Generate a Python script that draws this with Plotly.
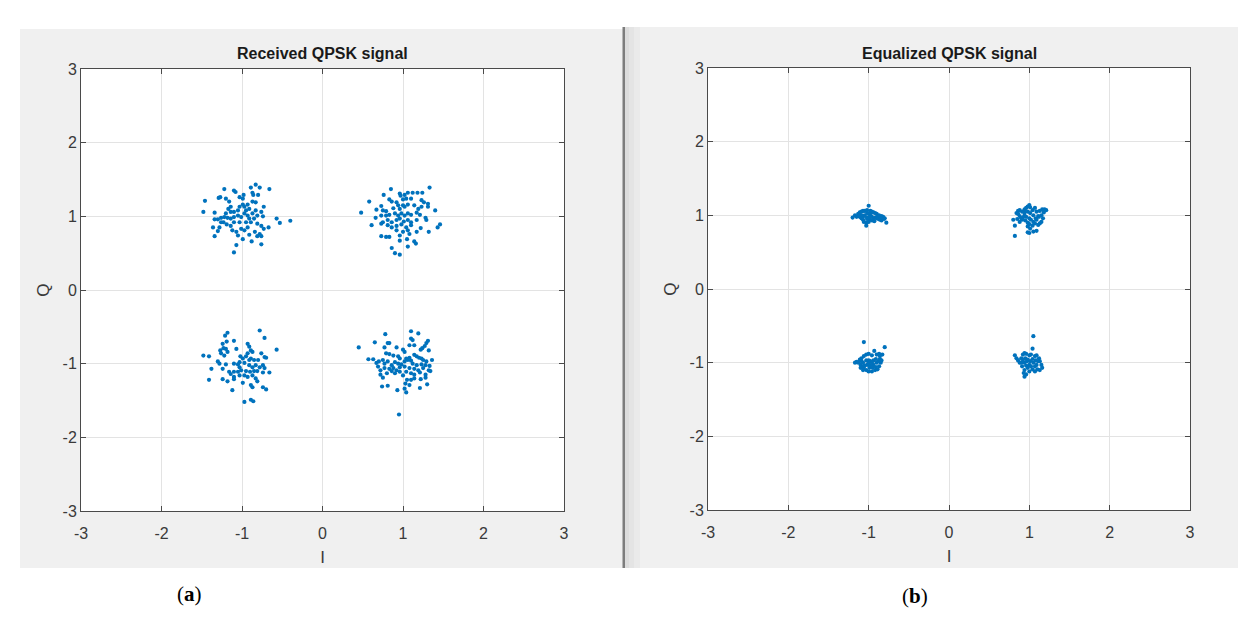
import plotly.graph_objects as go

# ---------------- data ----------------
tick_vals = [-3, -2, -1, 0, 1, 2, 3]
tick_labels = ["-3", "-2", "-1", "0", "1", "2", "3"]

# (a) Received QPSK signal -- cluster near (-1, +1)
rx_i_mp = [-1.46, -1.48, -1.22, -1.29, -1.27, -1.20, -1.10, -1.08, -1.03, -0.98, -0.99, -0.89, -0.83, -0.78,
           -0.87, -0.86, -0.80, -0.66, -1.16, -1.14, -1.17, -1.10, -1.05, -0.99, -0.97, -0.93, -0.91, -0.87,
           -0.83, -0.73, -0.76, -0.81, -0.74, -0.87, -0.93, -0.97, -1.01, -1.05, -1.10, -1.14, -1.18, -1.22,
           -1.26, -1.30, -1.34, -1.34, -1.23, -1.19, -1.14, -1.28, -1.36, -1.30, -1.34, -1.12, -1.07, -1.05,
           -1.01, -0.97, -0.93, -0.89, -0.85, -0.81, -0.76, -0.73, -0.67, -0.84, -0.78, -0.76, -0.81, -0.91,
           -0.99, -1.07, -0.88, -0.76, -1.10, -0.57, -0.53, -0.40, -1.03, -0.95, -0.91, -1.14, -1.20, -1.03,
           -0.95, -0.83, -1.10, -1.26]
rx_q_mp = [1.21, 1.06, 1.37, 1.25, 1.26, 1.24, 1.35, 1.33, 1.26, 1.29, 1.24, 1.39, 1.43, 1.39,
           1.32, 1.29, 1.29, 1.37, 1.20, 1.13, 1.10, 1.06, 1.08, 1.16, 1.13, 1.16, 1.10, 1.20,
           1.19, 1.13, 1.06, 1.01, 1.00, 1.04, 1.01, 1.04, 0.99, 1.01, 0.99, 0.97, 0.98, 0.99,
           0.98, 0.96, 0.96, 1.05, 0.92, 0.89, 0.87, 0.85, 0.85, 0.80, 0.73, 0.81, 0.79, 0.74,
           0.83, 0.81, 0.85, 0.92, 0.97, 0.90, 0.87, 0.83, 0.85, 0.79, 0.76, 0.73, 0.73, 0.75,
           0.69, 0.61, 0.66, 0.62, 0.51, 0.97, 0.91, 0.94, 0.92, 0.92, 0.97, 1.06, 1.04, 1.13,
           1.08, 1.08, 0.92, 0.92]

# (a) cluster near (+1, +1)
rx_i_pp = [0.85, 1.33, 0.58, 0.76, 0.96, 0.97, 1.02, 1.06, 1.12, 1.18, 1.24, 0.83, 0.86, 1.00, 1.04,
           1.10, 1.23, 1.26, 1.31, 1.31, 0.67, 0.73, 0.75, 0.79, 0.88, 0.94, 0.96, 1.02, 1.06, 1.14,
           1.19, 1.23, 1.40, 0.48, 0.66, 0.73, 0.79, 0.83, 0.90, 0.94, 0.98, 1.02, 1.06, 1.10, 1.17,
           1.21, 1.28, 1.29, 0.75, 0.81, 0.86, 0.92, 0.96, 1.01, 1.06, 1.10, 1.17, 0.61, 0.73, 0.81,
           0.86, 0.92, 0.98, 1.04, 1.10, 1.22, 1.46, 1.43, 0.92, 1.00, 1.06, 1.17, 1.32, 0.73, 0.79,
           0.83, 0.96, 1.08, 0.96, 1.05, 1.14, 1.16, 0.86, 1.06, 0.90, 0.96, 1.00, 0.92]
rx_q_pp = [1.37, 1.39, 1.20, 1.29, 1.31, 1.28, 1.29, 1.32, 1.32, 1.32, 1.32, 1.23, 1.20, 1.23, 1.24,
           1.24, 1.22, 1.19, 1.17, 1.13, 1.09, 1.14, 1.08, 1.07, 1.11, 1.15, 1.10, 1.13, 1.16, 1.15,
           1.10, 1.13, 1.08, 1.05, 0.98, 1.01, 1.01, 1.02, 1.04, 1.01, 1.04, 1.01, 1.04, 1.02, 1.05,
           1.02, 0.98, 0.95, 0.92, 0.95, 0.92, 0.95, 0.97, 0.93, 0.95, 0.92, 0.95, 0.88, 0.90, 0.88,
           0.85, 0.87, 0.89, 0.85, 0.88, 0.84, 0.89, 0.85, 0.81, 0.79, 0.81, 0.79, 0.79, 0.73, 0.72,
           0.72, 0.74, 0.76, 0.67, 0.69, 0.66, 0.63, 0.57, 0.59, 0.50, 0.48, 1.15, 1.19]

# (a) cluster near (-1, -1)
rx_i_mm = [-1.18, -1.21, -1.24, -1.19, -1.10, -0.78, -0.72, -0.57, -1.48, -1.41, -1.27, -1.23, -1.20, -1.18,
           -1.26, -1.22, -1.07, -0.93, -0.91, -0.89, -0.87, -0.93, -0.95, -0.99, -1.02, -0.76, -0.72, -0.70,
           -0.80, -0.85, -0.89, -1.30, -1.28, -1.38, -1.24, -1.20, -1.16, -1.10, -1.05, -1.03, -0.97, -0.91,
           -0.87, -0.83, -0.78, -0.74, -0.72, -0.66, -0.74, -0.81, -0.85, -0.90, -0.95, -1.01, -1.05, -1.10,
           -1.14, -1.10, -1.03, -0.97, -0.93, -0.87, -0.83, -0.81, -1.10, -1.18, -1.24, -1.41, -0.89, -0.87,
           -0.74, -0.70, -0.99, -1.12, -0.97, -0.89, -0.86, -1.03, -0.91]
rx_q_mm = [-0.58, -0.62, -0.73, -0.70, -0.69, -0.55, -0.65, -0.81, -0.89, -0.90, -0.82, -0.79, -0.80, -0.84,
           -0.86, -0.89, -0.80, -0.73, -0.77, -0.82, -0.84, -0.86, -0.90, -0.93, -0.90, -0.86, -0.91, -0.92,
           -0.95, -0.95, -0.93, -0.97, -1.00, -1.07, -1.07, -1.01, -1.11, -1.00, -1.01, -0.98, -0.99, -1.02,
           -1.05, -1.02, -1.05, -1.02, -1.06, -1.12, -1.12, -1.10, -1.10, -1.11, -1.10, -1.09, -1.11, -1.11,
           -1.14, -1.18, -1.16, -1.16, -1.18, -1.16, -1.20, -1.24, -1.21, -1.24, -1.21, -1.22, -1.29, -1.32,
           -1.32, -1.35, -1.26, -1.36, -1.52, -1.49, -1.51, -1.05, -0.95]

# (a) cluster near (+1, -1)
rx_i_pm = [0.78, 0.65, 0.45, 1.10, 1.19, 1.10, 1.12, 1.08, 1.14, 1.31, 1.29, 1.27, 1.24, 1.22, 1.32,
           0.81, 0.83, 0.77, 0.92, 1.00, 1.02, 0.79, 0.83, 0.88, 0.94, 0.96, 1.04, 1.08, 1.14, 1.17,
           1.20, 1.23, 1.25, 1.29, 1.36, 0.57, 0.63, 0.67, 0.70, 0.75, 0.77, 0.81, 0.86, 0.90, 0.94,
           0.98, 1.02, 1.06, 1.10, 1.12, 1.17, 1.23, 1.28, 1.33, 1.32, 1.34, 0.69, 0.72, 0.77, 0.83,
           0.88, 0.92, 0.96, 1.02, 1.08, 1.14, 1.19, 1.25, 0.72, 0.75, 0.80, 0.86, 0.90, 0.96, 1.00,
           1.04, 1.10, 1.14, 1.21, 1.28, 1.05, 1.10, 1.14, 1.22, 1.28, 1.30, 1.21, 1.08, 1.03, 1.02,
           1.04, 0.93, 0.81, 0.74, 0.95]
rx_q_pm = [-0.60, -0.71, -0.78, -0.56, -0.59, -0.66, -0.68, -0.75, -0.75, -0.69, -0.72, -0.76, -0.79, -0.81, -0.82,
           -0.72, -0.72, -0.78, -0.78, -0.81, -0.84, -0.86, -0.87, -0.89, -0.90, -0.93, -0.93, -0.92, -0.88, -0.90,
           -0.92, -0.93, -0.95, -0.97, -0.95, -0.94, -0.94, -0.99, -0.97, -0.95, -1.00, -0.97, -1.02, -0.98, -1.00,
           -1.01, -0.97, -0.95, -0.96, -1.00, -1.02, -1.01, -1.02, -1.03, -1.09, -1.10, -1.04, -1.09, -1.06, -1.07,
           -1.06, -1.09, -1.05, -1.04, -1.06, -1.07, -1.09, -1.06, -1.15, -1.19, -1.13, -1.10, -1.13, -1.11, -1.16,
           -1.11, -1.13, -1.15, -1.12, -1.15, -1.22, -1.22, -1.20, -1.21, -1.19, -1.28, -1.33, -1.29, -1.27, -1.34,
           -1.39, -1.36, -1.30, -1.31, -1.69]

# (b) Equalized QPSK signal -- cluster near (-1, +1)
eq_i_mp = [-1.00, -1.03, -0.78, -1.20, -1.17, -1.13, -1.11, -1.09, -1.07, -1.05, -1.02, -0.98, -0.96, -0.94,
           -0.92, -0.90, -0.87, -0.84, -0.82, -0.80, -1.11, -1.09, -1.07, -1.05, -1.02, -1.00, -0.98, -0.96,
           -0.94, -0.92, -0.90, -0.88, -0.86, -0.84, -1.07, -1.02, -0.99, -0.96, -0.93, -1.06, -1.03, -1.00,
           -1.09, -1.12, -1.15, -0.97, -0.99, -1.02, -0.89, -0.85, -0.81]
eq_q_mp = [1.13, 0.86, 0.90, 0.97, 1.00, 1.02, 1.04, 1.05, 1.06, 1.06, 1.07, 1.06, 1.05, 1.04,
           1.03, 1.02, 1.00, 0.99, 0.98, 0.96, 0.98, 0.96, 0.98, 1.00, 1.03, 1.02, 0.99, 0.98,
           0.96, 0.97, 0.96, 0.95, 0.94, 0.93, 0.94, 0.95, 0.94, 0.93, 0.92, 0.91, 0.90, 0.91,
           1.00, 0.99, 0.98, 1.03, 0.97, 0.97, 0.99, 0.96, 0.95]

# (b) cluster near (+1, +1)
eq_i_pp = [1.00, 0.82, 0.82, 0.80, 0.84, 0.86, 0.88, 0.91, 0.94, 0.96, 0.98, 1.01, 1.04, 1.07, 1.09,
           1.13, 1.16, 1.19, 1.21, 1.18, 1.15, 1.12, 1.17, 1.15, 1.13, 1.11, 1.07, 1.05, 1.02, 1.00,
           0.96, 0.94, 0.92, 0.90, 0.88, 0.86, 0.91, 0.95, 0.98, 1.00, 1.04, 0.98, 1.01, 1.09, 1.05,
           1.00, 0.98, 1.11, 1.08, 1.05, 1.01, 0.98, 0.94, 1.09, 0.88, 0.85]
eq_q_pp = [1.14, 0.72, 0.86, 0.94, 1.03, 1.06, 1.07, 1.05, 1.08, 1.10, 1.12, 1.11, 1.07, 1.10, 1.05,
           1.06, 1.08, 1.08, 1.07, 1.04, 1.00, 0.98, 0.96, 0.91, 0.89, 0.87, 0.89, 0.91, 0.94, 0.96,
           0.98, 1.00, 0.97, 0.96, 0.99, 1.02, 0.94, 0.93, 0.90, 0.88, 0.86, 0.85, 0.82, 0.79, 0.78,
           0.76, 0.77, 0.99, 0.96, 1.00, 1.03, 1.05, 1.04, 0.94, 0.91, 0.95]

# (b) cluster near (-1, -1)
eq_i_mm = [-1.06, -0.80, -0.93, -0.83, -0.87, -0.90, -0.96, -1.00, -1.03, -1.06, -1.09, -1.11, -1.15, -1.17,
           -1.13, -1.10, -1.07, -1.06, -1.03, -1.00, -0.96, -0.92, -0.89, -0.87, -0.85, -0.84, -0.86, -0.91,
           -0.94, -0.98, -1.00, -1.03, -1.07, -1.09, -1.02, -0.98, -0.94, -0.90, -0.88, -0.99, -0.95, -0.91,
           -1.07, -1.10, -1.05, -0.86, -0.96, -1.00]
eq_q_mm = [-0.72, -0.79, -0.84, -0.89, -0.88, -0.89, -0.90, -0.88, -0.89, -0.91, -0.94, -0.96, -0.99, -1.00,
           -1.00, -1.03, -1.05, -1.07, -1.10, -1.12, -1.12, -1.10, -1.09, -1.05, -1.00, -0.97, -0.95, -0.95,
           -0.97, -0.98, -0.97, -0.97, -1.00, -0.98, -1.03, -1.04, -1.03, -1.00, -0.98, -1.07, -1.07, -1.06,
           -1.10, -1.07, -1.04, -0.91, -1.00, -1.00]

# (b) cluster near (+1, -1)
eq_i_pm = [1.05, 1.04, 0.82, 0.84, 0.86, 0.88, 0.90, 0.92, 0.94, 0.96, 1.00, 1.02, 1.07, 1.09, 1.12,
           1.13, 1.15, 1.16, 1.13, 1.10, 1.07, 1.05, 1.01, 0.98, 0.95, 0.92, 0.90, 0.94, 0.96, 0.98,
           0.94, 0.93, 0.94, 0.96, 1.00, 1.04, 1.09, 1.11, 1.08, 1.04, 1.00, 0.91, 1.02, 1.07, 0.97]
eq_q_pm = [-0.64, -0.81, -0.90, -0.94, -0.97, -1.00, -1.00, -0.89, -0.87, -0.88, -0.90, -0.89, -0.91, -0.90, -0.94,
           -0.98, -1.03, -1.07, -1.10, -1.09, -1.05, -1.00, -0.98, -0.96, -0.94, -0.96, -0.94, -1.00, -1.04, -1.07,
           -1.10, -1.14, -1.19, -1.16, -1.12, -1.09, -1.03, -0.98, -0.97, -0.95, -1.03, -1.05, -1.05, -1.12, -0.98]

panel_titles = ["Received QPSK signal", "Equalized QPSK signal"]
panel_tags = ["a", "b"]
x_title = "I"
y_title = "Q"

# ---------------- styling / layout ----------------
W, H = 1259, 626
OX, OY = 8, 8          # page body margin offset of the plot div
BLUE = "#0072BD"
AXCOL = "#4a4a4a"
GRIDCOL = "#e3e3e3"
PANEL = "#f0f0f0"
SANS = "Arial, Liberation Sans, sans-serif"

def px_x(p):
    return (p - OX) / W

def px_y(p):
    return 1 - (p - OY) / H

# plot boxes in screen pixels: (left, right, top, bottom)
boxes = [(81, 564, 69, 511), (708, 1190, 68, 510)]

received_I = rx_i_mp + rx_i_pp + rx_i_mm + rx_i_pm
received_Q = rx_q_mp + rx_q_pp + rx_q_mm + rx_q_pm
equalized_I = eq_i_mp + eq_i_pp + eq_i_mm + eq_i_pm
equalized_Q = eq_q_mp + eq_q_pp + eq_q_mm + eq_q_pm

fig = go.Figure()
fig.add_trace(go.Scatter(x=received_I, y=received_Q, mode="markers", xaxis="x", yaxis="y",
                         marker=dict(color=BLUE, size=4.2, line=dict(width=0)), showlegend=False,
                         name="Received"))
fig.add_trace(go.Scatter(x=equalized_I, y=equalized_Q, mode="markers", xaxis="x2", yaxis="y2",
                         marker=dict(color=BLUE, size=4.2, line=dict(width=0)), showlegend=False,
                         name="Equalized"))

tickfont = dict(family=SANS, size=16, color="#3a3a3a")

def axis(domain, anchor):
    return dict(domain=domain, anchor=anchor, range=[-3, 3], autorange=False,
                tickmode="array", tickvals=tick_vals, ticktext=tick_labels,
                showgrid=True, gridcolor=GRIDCOL, gridwidth=1, zeroline=False,
                showline=True, linecolor=AXCOL, linewidth=1, mirror="allticks",
                ticks="inside", ticklen=5, tickcolor=AXCOL, tickwidth=1,
                tickfont=tickfont, automargin=False, fixedrange=True)

layout = dict(width=W, height=H, margin=dict(l=0, r=0, t=0, b=0),
              paper_bgcolor="white", plot_bgcolor="white", showlegend=False)

for k, (l, r, t, b) in enumerate(boxes):
    sfx = "" if k == 0 else str(k + 1)
    xa = axis([px_x(l), px_x(r)], "y" + sfx)
    ya = axis([px_y(b), px_y(t)], "x" + sfx)
    xa["title"] = dict(text=x_title, font=dict(family=SANS, size=17, color="#3a3a3a"), standoff=9)
    ya["title"] = dict(text=y_title, font=dict(family=SANS, size=17, color="#3a3a3a"), standoff=8)
    xa["ticklabelstandoff"] = 8
    layout["xaxis" + sfx] = xa
    layout["yaxis" + sfx] = ya

fig.update_layout(**layout)

# gray figure panels (MATLAB window backgrounds)
def rect(x0, x1, y0, y1, color):
    return dict(type="rect", xref="paper", yref="paper", x0=px_x(x0), x1=px_x(x1),
                y0=px_y(y1), y1=px_y(y0), fillcolor=color, line=dict(width=0), layer="below")

shapes = [
    rect(20, 623, 29, 568, PANEL),
    rect(623, 1238, 27, 568, PANEL),
    rect(625, 629, 27, 568, "#dcdcdc"),
    rect(629, 634, 27, 568, "#e4e4e4"),
    rect(634, 640, 27, 568, "#eaeaea"),
    rect(622.5, 625, 27, 568, "#7d7d7d"),
]
for (l, r, t, b) in boxes:
    shapes.append(rect(l, r, t, b, "white"))
fig.update_layout(shapes=shapes)

annotations = []
for k, (l, r, t, b) in enumerate(boxes):
    annotations.append(dict(text="<b>" + panel_titles[k] + "</b>", xref="paper", yref="paper",
                            x=px_x((l + r) / 2), y=px_y(54), xanchor="center", yanchor="middle",
                            showarrow=False, font=dict(family=SANS, size=16, color="#1a1a1a")))
tag_pos = [(189.5, 594), (915, 596)]
for k, (cx, cy) in enumerate(tag_pos):
    annotations.append(dict(text="(<b>" + panel_tags[k] + "</b>)", xref="paper", yref="paper",
                            x=px_x(cx), y=px_y(cy), xanchor="center", yanchor="middle", showarrow=False,
                            font=dict(family="Liberation Serif, serif", size=21, color="#000000")))
fig.update_layout(annotations=annotations)

fig.write_html("out.html")
